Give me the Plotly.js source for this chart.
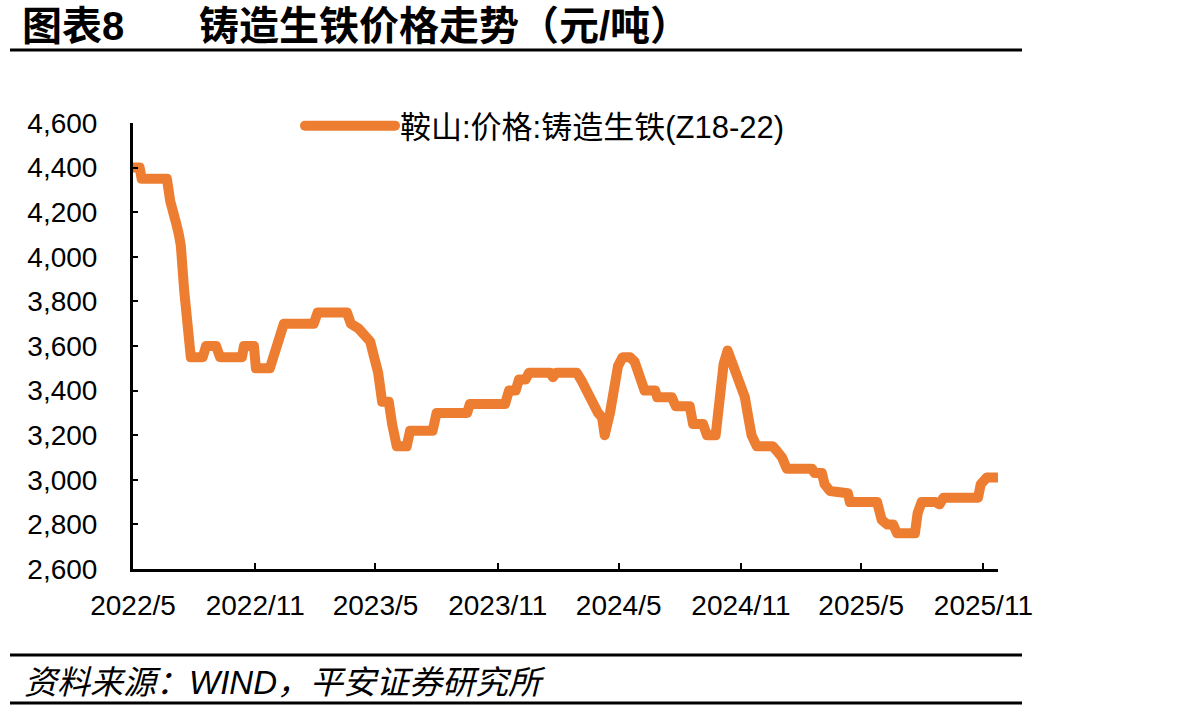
<!DOCTYPE html>
<html>
<head>
<meta charset="utf-8">
<script src="https://cdn.plot.ly/plotly-3.0.1.min.js"></script>
<style>
html,body{margin:0;padding:0;background:#fff;}
#chart{width:1192px;height:712px;}
path.js-line{stroke-linejoin:round;stroke-linecap:round;}
</style>
</head>
<body>
<div id="chart"></div>
<script>
// ---- data ----
const seriesName = '鞍山:价格:铸造生铁(Z18-22)';
const dates = ['2022-05-01','2022-05-11','2022-05-14','2022-06-21','2022-06-26','2022-06-29','2022-07-05','2022-07-09','2022-07-12','2022-07-17',
'2022-07-21','2022-07-24','2022-07-27','2022-08-14','2022-08-19','2022-09-03','2022-09-09','2022-10-12','2022-10-15','2022-10-30',
'2022-11-02','2022-11-23','2022-11-28','2022-12-04','2022-12-10','2022-12-14','2023-01-28','2023-02-03','2023-03-19','2023-03-25',
'2023-04-05','2023-04-15','2023-04-23','2023-04-29','2023-05-05','2023-05-11','2023-05-21','2023-05-26','2023-05-30','2023-06-02',
'2023-06-17','2023-06-22','2023-07-26','2023-08-01','2023-09-16','2023-09-20','2023-11-12','2023-11-18','2023-11-28','2023-12-03',
'2023-12-13','2023-12-18','2024-01-19','2024-01-23','2024-01-28','2024-02-28','2024-03-07','2024-03-14','2024-03-22','2024-03-31',
'2024-04-06','2024-04-10','2024-04-18','2024-04-24','2024-04-30','2024-05-07','2024-05-18','2024-05-25','2024-05-31','2024-06-09',
'2024-06-25','2024-06-28','2024-07-20','2024-07-26','2024-08-16','2024-08-21','2024-09-05','2024-09-11','2024-09-24','2024-09-30',
'2024-10-06','2024-10-12','2024-10-18','2024-10-23','2024-10-30','2024-11-07','2024-11-11','2024-11-17','2024-11-25','2024-12-19',
'2024-12-25','2025-01-02','2025-01-09','2025-02-16','2025-02-20','2025-03-03','2025-03-07','2025-03-15','2025-04-11','2025-04-14',
'2025-05-25','2025-06-01','2025-06-09','2025-06-18','2025-06-24','2025-07-21','2025-07-25','2025-07-31','2025-08-21','2025-08-27',
'2025-09-02','2025-10-24','2025-10-28','2025-11-06','2025-11-21'];
const prices = [4400,4400,4350,4350,4250,4200,4150,4100,4050,3850,
3700,3650,3550,3550,3600,3600,3550,3550,3600,3600,
3500,3500,3550,3600,3650,3700,3700,3750,3750,3700,
3680,3650,3620,3550,3480,3350,3350,3250,3200,3150,
3150,3220,3220,3300,3300,3340,3340,3400,3400,3450,
3450,3480,3480,3460,3480,3480,3440,3400,3340,3300,
3280,3200,3300,3420,3510,3550,3550,3530,3480,3400,
3400,3370,3370,3330,3330,3250,3250,3200,3200,3400,
3520,3580,3530,3500,3450,3370,3300,3200,3150,3150,
3130,3100,3050,3050,3030,3030,2980,2950,2940,2900,
2900,2820,2800,2800,2760,2760,2850,2900,2900,2890,
2920,2920,2980,3010,3010];
const tickDates = ['2022-05-01','2022-11-01','2023-05-01','2023-11-01','2024-05-01','2024-11-01','2025-05-01','2025-11-01'];
const tickLabels = ['2022/5','2022/11','2023/5','2023/11','2024/5','2024/11','2025/5','2025/11'];
const yTicks = [2600,2800,3000,3200,3400,3600,3800,4000,4200,4400,4600];
const titleLeft = '图表8';
const titleMain = '铸造生铁价格走势（元/吨）';
const sourceText = '资料来源：WIND，平安证券研究所';

// ---- layout helpers (pixel -> paper) ----
const L = 133, R = 998, T = 123, B = 569;
const px = x => (x - L) / (R - L);
const py = y => (B - y) / (B - T);

const latin = 'Arial, Liberation Sans, Noto Sans CJK SC, sans-serif';

const trace = {
  type: 'scatter', mode: 'lines', name: seriesName,
  x: dates, y: prices,
  line: {color: '#ED7D31', width: 10, shape: 'linear'},
  cliponaxis: false
};

const layout = {
  width: 1192, height: 712,
  margin: {l: L, r: 1192 - R, t: T, b: 712 - B},
  paper_bgcolor: '#fff', plot_bgcolor: '#fff',
  font: {family: latin, color: '#000'},
  showlegend: true,
  legend: {
    x: px(300), y: py(126), xanchor: 'left', yanchor: 'middle',
    bgcolor: 'rgba(0,0,0,0)', itemwidth: 90,
    font: {family: latin, size: 31, color: '#000'}
  },
  xaxis: {
    type: 'date', range: ['2022-05-01', '2025-11-23'],
    tickmode: 'array', tickvals: tickDates, ticktext: tickLabels,
    ticks: 'inside', ticklen: 6, tickwidth: 2, tickcolor: '#000',
    showline: true, linecolor: '#000', linewidth: 3,
    showgrid: false, zeroline: false,
    tickfont: {family: latin, size: 28, color: '#000'},
    ticklabelstandoff: 9
  },
  yaxis: {
    range: [2600, 4600], tickmode: 'array', tickvals: yTicks,
    ticktext: yTicks.map(v => v.toLocaleString('en-US')),
    ticks: 'inside', ticklen: 5, tickwidth: 2, tickcolor: '#000',
    showline: true, linecolor: '#000', linewidth: 3,
    showgrid: false, zeroline: false,
    tickfont: {family: latin, size: 28, color: '#000'},
    ticklabelstandoff: 27
  },
  annotations: [
    {xref: 'paper', yref: 'paper', x: px(20), y: py(26), xanchor: 'left', yanchor: 'middle',
     text: titleLeft, showarrow: false, font: {family: latin, size: 40, weight: 'bold', color: '#000'}},
    {xref: 'paper', yref: 'paper', x: px(197), y: py(26), xanchor: 'left', yanchor: 'middle',
     text: titleMain, showarrow: false, font: {family: latin, size: 40, weight: 'bold', color: '#000'}},
    {xref: 'paper', yref: 'paper', x: px(22), y: py(682), xanchor: 'left', yanchor: 'middle',
     text: sourceText, showarrow: false, font: {family: latin, size: 33, style: 'italic', color: '#000'}}
  ],
  shapes: [
    {type: 'line', xref: 'paper', yref: 'paper', x0: px(10), x1: px(1022), y0: py(50), y1: py(50), line: {color: '#000', width: 3}},
    {type: 'line', xref: 'paper', yref: 'paper', x0: px(10), x1: px(1022), y0: py(655), y1: py(655), line: {color: '#000', width: 3}},
    {type: 'line', xref: 'paper', yref: 'paper', x0: px(10), x1: px(1022), y0: py(703), y1: py(703), line: {color: '#000', width: 3}}
  ]
};

Plotly.newPlot('chart', [trace], layout, {displayModeBar: false, staticPlot: true});
</script>
</body>
</html>
